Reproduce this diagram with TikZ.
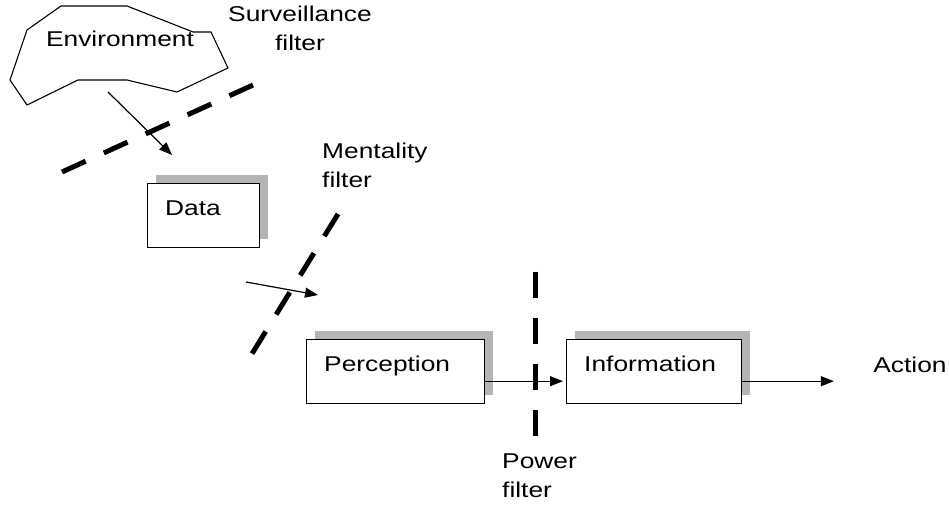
\documentclass[tikz,border=0pt]{standalone}
\usepackage{fontspec}
\setmainfont[FakeStretch=1.23]{Liberation Sans}
\usetikzlibrary{arrows.meta,shadows}
\definecolor{shadowgray}{RGB}{180,180,180}

\tikzset{
	stage/.style={draw, fill=white, anchor=north west, align=left, inner xsep=18bp,
		inner ysep=17bp, text height=15bp, text depth=15bp,
		drop shadow={shadow xshift=9bp, shadow yshift=8bp, fill=shadowgray, opacity=1}},
	filterline/.style={line width=5bp, dash pattern=on 26bp off 20bp},
	flow/.style={line width=1.2bp, -{Triangle[length=13bp,width=10bp]}},
	lbl/.style={inner sep=0pt}
}

\begin{document}
\begin{tikzpicture}[x=1bp, y=-1bp, font=\fontsize{21.5}{29}\selectfont]
	\useasboundingbox (0,0) rectangle (949,506);
	% environment as an irregular outline
	\draw[line width=1.1bp] (61,6) -- (127,6) -- (193,32) -- (211,32) -- (228,68) -- (177,92)
		-- (127,80) -- (78,80) -- (27,105) -- (10,80) -- (27,30) -- cycle;
	\node (env) at (120,39) {Environment};
	% filters
	\draw[filterline] (62,172) -- (253,85);
	\draw[filterline] (338,214) -- (250,357);
	\draw[filterline] (535,272) -- (535,436);
	\node[lbl, align=center] (survtxt) at (300,28) {Surveillance\\filter};
	\node[lbl, align=left, anchor=west] (menttxt) at (322,165) {Mentality\\filter};
	\node[lbl, align=left, anchor=west] (powtxt) at (502,476) {Power\\filter};
	% stages
	\node[stage, text width=76bp] (data) at (147,183) {Data};
	\node[stage, text width=142bp] (perc) at (306,339) {Perception};
	\node[stage, text width=139bp] (info) at (566,339) {Information};
	\node (act) at (910,365) {Action};
	% arrows
	\coordinate (envout) at (108,92);
	\coordinate (datain) at (172,155);
	\coordinate (dataout) at (246,282);
	\coordinate (percin) at (318,295);
	\draw[flow] (envout) -- (datain);
	\draw[flow] (dataout) -- (percin);
	\draw[flow, shorten >=3bp] ([yshift=-10bp]perc.east) -- ([yshift=-10bp]info.west);
	\draw[flow, shorten >=36bp] ([yshift=-10bp]info.east) -- ([yshift=-10bp]info.east -| act.west);
\end{tikzpicture}
\end{document}
